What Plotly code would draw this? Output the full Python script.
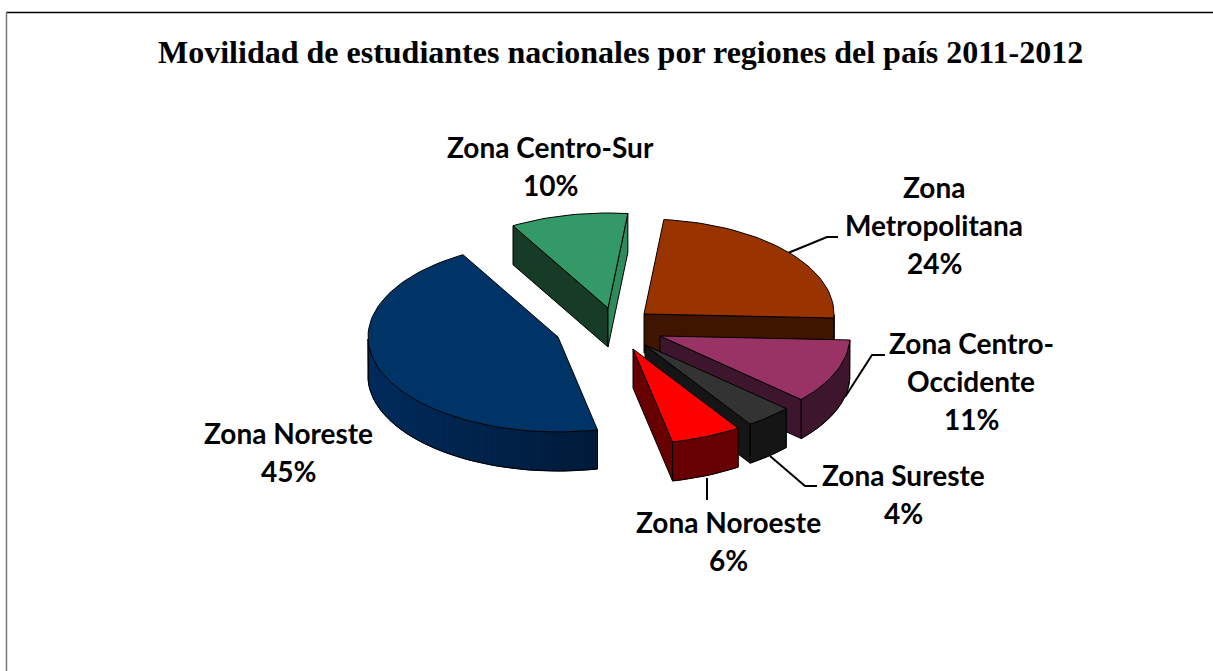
import numpy as np
import plotly.graph_objects as go

# ---- data ----
categories = ["Zona Metropolitana", "Zona Centro-Occidente", "Zona Sureste",
              "Zona Noroeste", "Zona Noreste", "Zona Centro-Sur"]
values = [24, 11, 4, 6, 45, 10]
title_text = "Movilidad de estudiantes nacionales por regiones del país 2011-2012"

# ---- styling / geometry of the exploded 3-D pie ----
top_colors = ["#993300", "#993366", "#333333", "#FF0000", "#003366", "#339966"]
wall_colors = [("#3F1500", "#3F1500"), ("#3D152C", "#3D152C"), ("#151515", "#151515"),
               ("#670000", "#670000"), ("#002B5C", "#001A38"), ("#163C27", "#2E8B5C")]
pull_dx = [24, 40, 25, 13, -62, -12]
pull_dy = [-11, 11, 20, 24, 12, -17]
label_lines = [["Zona", "Metropolitana"], ["Zona Centro-", "Occidente"], ["Zona Sureste"],
               ["Zona Noroeste"], ["Zona Noreste"], ["Zona Centro-Sur"]]
label_pos = [(934, 187), (971, 343), (903, 475), (728, 522), (288, 433), (550, 147)]
leaders = [([788, 827, 838], [253, 237, 237]), ([845, 872, 885], [397, 355, 355]),
           ([770, 805, 817], [456, 486, 486]), ([707, 707], [478, 500])]
CX, CY, RX, RY, DEPTH = 620, 325, 190, 95, 39
START_DEG = 84
LINE_H = 38
paint_order = [4, 5, 0, 1, 2, 3]

fig = go.Figure()


def poly(xs, ys, fill, line=None, width=1):
    fig.add_trace(go.Scatter(x=list(xs) + [xs[0]], y=list(ys) + [ys[0]], mode="lines", fill="toself",
                             fillcolor=fill, line=dict(color=line or fill, width=width),
                             hoverinfo="skip", showlegend=False))


def mix(a, b, t):
    ca = [int(a[i:i + 2], 16) for i in (1, 3, 5)]
    cb = [int(b[i:i + 2], 16) for i in (1, 3, 5)]
    return "rgb(%d,%d,%d)" % tuple(round(p + (q - p) * t) for p, q in zip(ca, cb))


for lx, ly in leaders:
    fig.add_trace(go.Scatter(x=lx, y=ly, mode="lines", line=dict(color="black", width=2),
                             hoverinfo="skip", showlegend=False))

total = sum(values)
edges = START_DEG - np.cumsum([0] + values) * 360.0 / total

for i in paint_order:
    a1, a2 = edges[i], edges[i + 1]          # a1 = counter-clockwise edge, a2 = clockwise edge
    ax, ay = CX + pull_dx[i], CY + pull_dy[i]
    th = np.radians(np.linspace(a1, a2, max(8, int(abs(a1 - a2) / 2) + 2)))
    px = ax + RX * np.cos(th)
    py = ay - RY * np.sin(th)
    c_left, c_right = wall_colors[i]
    # straight inner walls that face the viewer
    if np.cos(th[0]) < 0:
        poly([ax, px[0], px[0], ax], [ay, py[0], py[0] + DEPTH, ay + DEPTH], c_left, "black")
    if np.cos(th[-1]) > 0:
        col = c_right if i == 5 else c_left
        poly([ax, px[-1], px[-1], ax], [ay, py[-1], py[-1] + DEPTH, ay + DEPTH], col, "black")
    # curved outer wall, only the part at the front
    mask = np.sin(th) < 0
    if mask.any():
        wx, wy = px[mask], py[mask]
        order = np.argsort(wx)
        sx, sy = wx[order], wy[order]
        if c_left == c_right:
            poly([*sx, *sx[::-1]], [*sy, *(sy + DEPTH)[::-1]], c_left)
        else:
            lo, hi = sx.min(), sx.max()
            for k in range(len(sx) - 1):
                t = ((sx[k] + sx[k + 1]) / 2 - lo) / max(hi - lo, 1)
                poly([sx[k], sx[k + 1], sx[k + 1], sx[k]],
                     [sy[k], sy[k + 1], sy[k + 1] + DEPTH, sy[k] + DEPTH], mix(c_left, c_right, t))
        fig.add_trace(go.Scatter(x=[sx[0], *sx, sx[-1]], y=[sy[0], *(sy + DEPTH), sy[-1]],
                                 mode="lines", line=dict(color="black", width=1),
                                 hoverinfo="skip", showlegend=False))
    # top face
    poly([ax, *px], [ay, *py], top_colors[i], "black")

annotations = []
for lines, v, (x, y) in zip(label_lines, values, label_pos):
    for k, t in enumerate(lines + [f"{v}%"]):
        annotations.append(dict(x=x, y=y + k * LINE_H, xref="x", yref="y", text=f"<b>{t}</b>", showarrow=False,
                                xanchor="center", yanchor="middle",
                                font=dict(family="Lato", size=28, color="black")))
annotations.append(dict(x=620, y=52, xref="x", yref="y", text=f"<b>{title_text}</b>", showarrow=False,
                        xanchor="center", yanchor="middle",
                        font=dict(family="Liberation Serif", size=32, color="black")))

fig.update_layout(
    margin=dict(l=0, r=0, t=0, b=0), paper_bgcolor="white", plot_bgcolor="white", showlegend=False,
    xaxis=dict(range=[0, 1213], visible=False, fixedrange=True),
    yaxis=dict(range=[671, 0], visible=False, fixedrange=True),
    annotations=annotations,
    shapes=[dict(type="line", xref="x", yref="y", x0=6, x1=1213, y0=12.5, y1=12.5, line=dict(color="black", width=1.5)),
            dict(type="line", xref="x", yref="y", x0=6.5, x1=6.5, y0=12, y1=671, line=dict(color="#777777", width=1.5))],
)
fig.write_html("out.html", config=dict(displayModeBar=False),
               post_script="document.body.style.margin='0';document.documentElement.style.overflow='hidden';"
                           "var g=document.getElementsByClassName('plotly-graph-div')[0];"
                           "g.style.height='671px';g.style.width='1213px';Plotly.Plots.resize(g);")
